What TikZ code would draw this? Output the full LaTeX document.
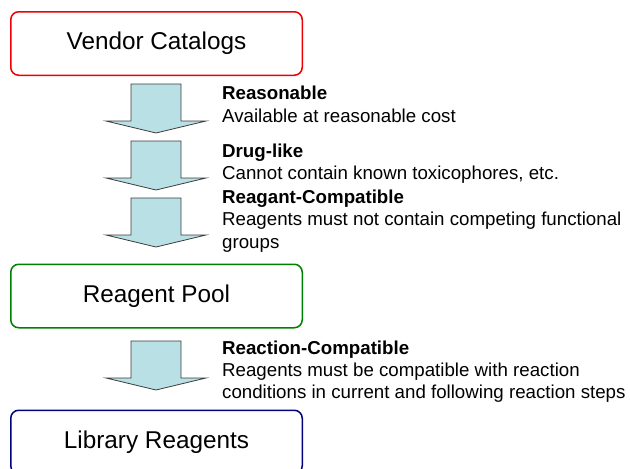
\documentclass[tikz,border=0pt]{standalone}
\usepackage{fontspec}
\setmainfont{Liberation Sans}
\definecolor{boxred}{RGB}{240,0,0}
\definecolor{boxgreen}{RGB}{0,128,0}
\definecolor{boxblue}{RGB}{0,0,128}
\definecolor{arrowfill}{RGB}{185,224,228}
\definecolor{arrowline}{RGB}{60,60,60}
\begin{document}
\begin{tikzpicture}[x=1pt,y=-1pt,
  stage/.style={draw, rounded corners=8pt, line width=1.5pt,
    minimum width=291.5pt, minimum height=63.5pt, inner sep=0pt,
    font=\fontsize{24.3}{28}\selectfont},
  crit/.style={anchor=north west, align=left, inner sep=0pt,
    font=\fontsize{18.7}{22.3}\selectfont},
  blockarrow/.pic={
    \draw[fill=arrowfill, draw=arrowline, line width=0.8pt, line join=miter]
      (-25,0) -- (25,0) -- (25,37) -- (50,37) -- (0,49) -- (-50,37)
      -- (-25,37) -- cycle;}
]
\clip (0,0) rectangle (630,469);

% pipeline stages
\node[stage, draw=boxred]   (vendor)  at (156.5,43.5) {Vendor Catalogs};
\node[stage, draw=boxgreen] (pool)    at (156.5,296)  {Reagent Pool};
\node[stage, draw=boxblue]  (library) at (156.5,442)  {Library Reagents};

% filtering steps
\pic (f1) at (156,84)  {blockarrow};
\pic (f2) at (156,141) {blockarrow};
\pic (f3) at (156,198) {blockarrow};
\pic (f4) at (156,341) {blockarrow};

% criteria (top = first baseline - 0.7 baselineskip)
\node[crit] (c1) at (222,83.9)
  {\strut\textbf{Reasonable}\\Available at reasonable cost};
\node[crit] (c2) at (222,141.4)
  {\strut\textbf{Drug-like}\\Cannot contain known toxicophores, etc.};
\node[crit] (c3) at (222,187.6)
  {\strut\textbf{Reagant-Compatible}\\Reagents must not contain competing functional\\groups};
\node[crit] (c4) at (222,338.4)
  {\strut\textbf{Reaction-Compatible}\\Reagents must be compatible with reaction\\conditions in current and following reaction steps};
\end{tikzpicture}
\end{document}
